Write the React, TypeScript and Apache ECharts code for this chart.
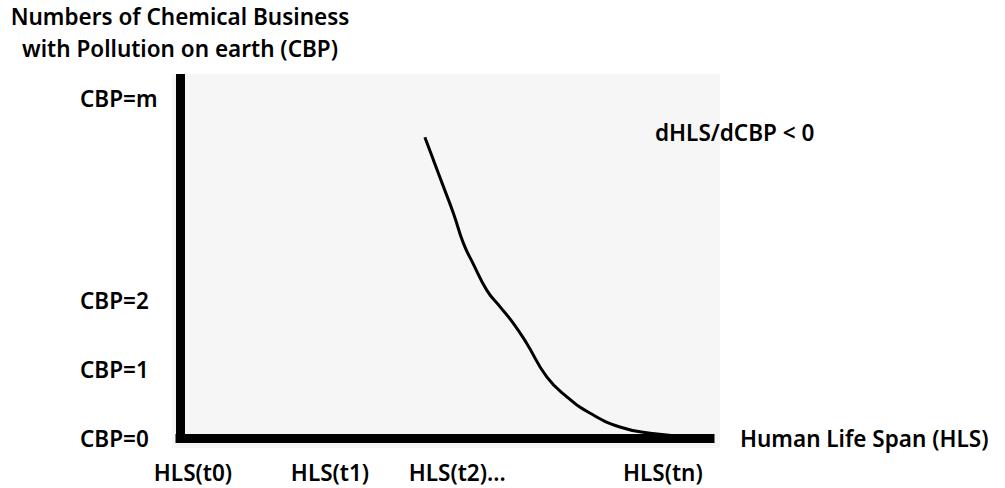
import React, { useEffect, useRef } from "react";
import * as echarts from "echarts";

// Curve: Human Life Span (x) vs Chemical Business with Pollution (y)
const curveX = [46.2, 47.8, 49.7, 51.6, 53.5, 55.3, 57.9, 60.4, 62.9, 65.4, 69.2, 73.0, 77.4, 83.0, 88.7, 96.8];
const curveY = [4.38, 4.05, 3.66, 3.27, 2.83, 2.54, 2.15, 1.91, 1.67, 1.38, 0.89, 0.6, 0.36, 0.16, 0.07, 0.02];

const xTickValues = [2.45, 28.3, 52.3, 91.1];
const xTickLabels = ["HLS(t0)", "HLS(t1)", "HLS(t2)...", "HLS(tn)"];

const yTickValues = [0, 1, 2, 4.95];
const yTickLabels = ["CBP=0", "CBP=1", "CBP=2", "CBP=m"];

const yAxisTitle = "Numbers of Chemical Business\nwith Pollution on earth (CBP)";
const xAxisTitle = "Human Life Span (HLS)";
const annotation = "dHLS/dCBP < 0";

const FONT = "'Noto Sans', 'Open Sans', sans-serif";
const FS = 22.5;

export default function App() {
  const ref = useRef<HTMLDivElement>(null);
  useEffect(() => {
    document.body.style.margin = "0";
    if (!ref.current) return;
    const chart = echarts.init(ref.current, null, { renderer: "svg" });
    const labelFor = (vals: number[], labels: string[]) => (v: number) => {
      let best = 0;
      for (let i = 1; i < vals.length; i++) {
        if (Math.abs(vals[i] - v) < Math.abs(vals[best] - v)) best = i;
      }
      return labels[best];
    };
    chart.setOption({
      animation: false,
      backgroundColor: "#ffffff",
      textStyle: { fontFamily: FONT },
      grid: { left: 180, top: 74, width: 530, height: 364 },
      graphic: [
        {
          type: "rect",
          z: -10,
          shape: { x: 172, y: 74, width: 548, height: 374 },
          style: { fill: "#f6f6f6" },
          silent: true,
        },
        {
          type: "text",
          x: 655,
          y: 132,
          style: {
            text: annotation,
            fill: "#000",
            font: `600 ${FS}px ${FONT}`,
            verticalAlign: "middle",
            align: "left",
          },
        },
      ],
      xAxis: {
        type: "value",
        min: 0,
        max: 100,
        name: xAxisTitle,
        nameLocation: "end",
        nameGap: 30,
        nameTextStyle: {
          color: "#000",
          fontSize: FS,
          fontWeight: 600,
          fontFamily: FONT,
          padding: [0, 0, 12, 0],
        },
        axisLine: { show: true, lineStyle: { color: "#000", width: 9, cap: "square" } },
        axisTick: { show: false },
        splitLine: { show: false },
        axisLabel: {
          customValues: xTickValues,
          formatter: labelFor(xTickValues, xTickLabels),
          color: "#000",
          fontSize: FS,
          fontWeight: 600,
          fontFamily: FONT,
          lineHeight: 22,
          margin: 23,
        },
      },
      yAxis: {
        type: "value",
        min: 0,
        max: 5.3,
        name: yAxisTitle,
        nameLocation: "end",
        nameGap: 10,
        nameTextStyle: {
          color: "#000",
          fontSize: FS,
          fontWeight: 600,
          fontFamily: FONT,
          lineHeight: 32,
          align: "center",
        },
        axisLine: { show: true, lineStyle: { color: "#000", width: 9, cap: "butt" } },
        axisTick: { show: false },
        splitLine: { show: false },
        axisLabel: {
          customValues: yTickValues,
          formatter: labelFor(yTickValues, yTickLabels),
          color: "#000",
          fontSize: FS,
          fontWeight: 600,
          fontFamily: FONT,
          align: "left",
          margin: 100,
        },
      },
      series: [
        {
          type: "line",
          data: curveX.map((x, i) => [x, curveY[i]]),
          smooth: 0.5,
          showSymbol: false,
          lineStyle: { color: "#000", width: 3 },
          z: 5,
        },
      ],
    });
    return () => chart.dispose();
  }, []);
  return <div ref={ref} style={{ width: 1005, height: 488 }} />;
}
